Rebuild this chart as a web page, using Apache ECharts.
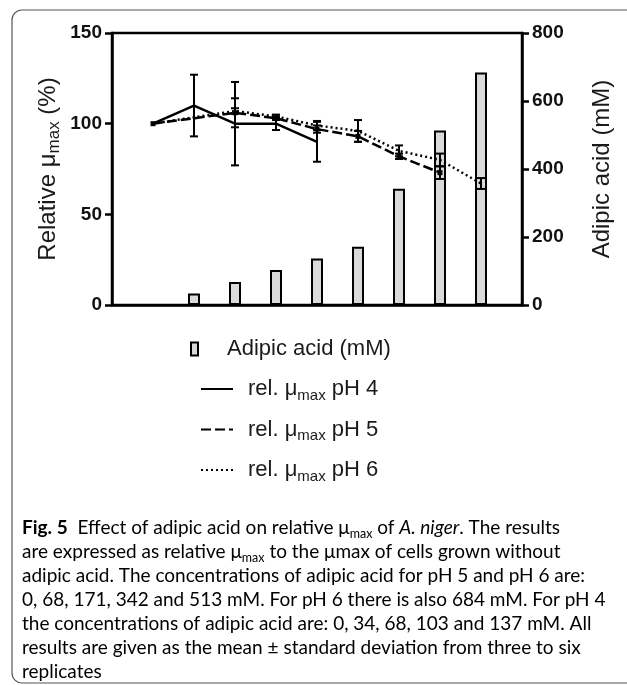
<!DOCTYPE html>
<html>
<head>
<meta charset="utf-8">
<script src="https://cdn.jsdelivr.net/npm/echarts@6.0.0/dist/echarts.min.js"></script>
<style>
  html, body { margin: 0; padding: 0; background: #fff; }
  #chart { width: 627px; height: 685px; }
</style>
</head>
<body>
<div id="chart"></div>
<script>
// slots on the x axis (no labels drawn), bars = adipic acid concentration
var barPos = [2, 3, 4, 5, 6, 7, 8, 9];
var adipic = [34, 68, 103, 137, 171, 342, 513, 684];

// relative mu max (%) with sd, per pH
var ph4Pos = [1, 2, 3, 4, 5];
var ph4Mean = [100, 110, 100, 100, 90];
var ph4Sd = [0, 17, 23, 3.5, 11];

var ph5Pos = [1, 3, 4, 5, 6, 7, 8];
var ph5Mean = [100, 106, 103, 97, 93, 82, 73];
var ph5Sd = [0, 8, 1, 2, 3, 1.5, 3.5];

var ph6Pos = [1, 3, 4, 5, 6, 7, 8, 9];
var ph6Mean = [100, 107, 104, 99, 96, 85, 80, 67];
var ph6Sd = [0, 1.5, 1, 2.5, 6, 3, 3.5, 3];

var leftTicks = [0, 50, 100, 150];
var rightTicks = [0, 200, 400, 600, 800];

var names = ['Adipic acid (mM)', 'rel. μmax pH 4', 'rel. μmax pH 5', 'rel. μmax pH 6'];

var caption = [
  '{b|Fig. 5}{t|  Effect of adipic acid on relative μ}{s|max}{t| of }{i|A. niger}{t|. The results}',
  '{t|are expressed as relative μ}{s|max}{t| to the μmax of cells grown without}',
  '{t|adipic acid. The concentrations of adipic acid for pH 5 and pH 6 are:}',
  '{t|0, 68, 171, 342 and 513 mM. For pH 6 there is also 684 mM. For pH 4}',
  '{t|the concentrations of adipic acid are: 0, 34, 68, 103 and 137 mM. All}',
  '{t|results are given as the mean ± standard deviation from three to six}',
  '{t|replicates}'
];

function zip(xs, ys) {
  return xs.map(function (x, i) { return [x, ys[i]]; });
}
function errData(xs, m, sd) {
  var out = [];
  for (var i = 0; i < xs.length; i++) {
    if (sd[i] > 0) out.push([xs[i], m[i] - sd[i], m[i] + sd[i]]);
  }
  return out;
}
function errRender(params, api) {
  var x = api.value(0);
  var top = api.coord([x, api.value(2)]);
  var bot = api.coord([x, api.value(1)]);
  var w = 4;
  var st = { stroke: '#000', lineWidth: 2 };
  return {
    type: 'group',
    children: [
      { type: 'line', shape: { x1: top[0], y1: top[1], x2: bot[0], y2: bot[1] }, style: st },
      { type: 'line', shape: { x1: top[0] - w, y1: top[1], x2: top[0] + w, y2: top[1] }, style: st },
      { type: 'line', shape: { x1: bot[0] - w, y1: bot[1], x2: bot[0] + w, y2: bot[1] }, style: st }
    ]
  };
}

var axisFont = 'Liberation Sans, Arial, sans-serif';
var capFont = 'Lato, sans-serif';
var legendRich = {
  p: { fontFamily: axisFont, fontSize: 22, color: '#1a1a1a', lineHeight: 28, padding: [0, 0, 0, 10] },
  a: { fontFamily: axisFont, fontSize: 22, color: '#1a1a1a', lineHeight: 28 },
  s: { fontFamily: axisFont, fontSize: 15, color: '#1a1a1a', lineHeight: 13, verticalAlign: 'bottom' }
};

var chart = echarts.init(document.getElementById('chart'), null, { renderer: 'canvas' });
chart.setOption({
  animation: false,
  backgroundColor: '#fff',
  grid: {
    left: 112, right: 105, top: 33, bottom: 380,
    show: true, borderColor: '#000', borderWidth: 2.5
  },
  xAxis: {
    type: 'value', min: 0, max: 10,
    axisLine: { show: true, lineStyle: { color: '#000', width: 2.5 } },
    axisTick: { show: false },
    axisLabel: { show: false },
    splitLine: { show: false }
  },
  yAxis: [{
    type: 'value', min: leftTicks[0], max: leftTicks[leftTicks.length - 1], interval: 50,
    position: 'left',
    name: '{a|Relative μ}{s|max}{a| (%)}',
    nameLocation: 'middle', nameGap: 49, nameRotate: 90, nameMoveOverlap: false,
    nameTextStyle: {
      rich: {
        a: { fontFamily: axisFont, fontSize: 24, color: '#1a1a1a', lineHeight: 30 },
        s: { fontFamily: axisFont, fontSize: 17, color: '#1a1a1a', lineHeight: 14, verticalAlign: 'bottom' }
      }
    },
    axisLine: { show: true, lineStyle: { color: '#000', width: 2.5 } },
    axisTick: { show: true, inside: false, length: 7, lineStyle: { color: '#000', width: 2.5 } },
    axisLabel: { fontFamily: axisFont, fontSize: 19, fontWeight: 'bold', color: '#111', margin: 10 },
    splitLine: { show: false }
  }, {
    type: 'value', min: rightTicks[0], max: rightTicks[rightTicks.length - 1], interval: 200,
    position: 'right',
    name: 'Adipic acid (mM)',
    nameLocation: 'middle', nameGap: 68, nameRotate: 90, nameMoveOverlap: false,
    nameTextStyle: { fontFamily: axisFont, fontSize: 24, color: '#1a1a1a' },
    axisLine: { show: true, lineStyle: { color: '#000', width: 2.5 } },
    axisTick: { show: true, inside: false, length: 7, lineStyle: { color: '#000', width: 2.5 } },
    axisLabel: { fontFamily: axisFont, fontSize: 19, fontWeight: 'bold', color: '#111', margin: 10 },
    splitLine: { show: false }
  }],
  legend: [{
    data: [names[0]],
    left: 190, top: 338, padding: 0,
    icon: 'rect', itemWidth: 7, itemHeight: 13,
    selectedMode: false,
    itemStyle: { color: '#d9d9d9', borderColor: '#000', borderWidth: 2 },
    formatter: function (n) { return '{p|' + n + '}'; },
    textStyle: { rich: { p: { fontFamily: axisFont, fontSize: 22, color: '#1a1a1a', lineHeight: 28, padding: [0, 0, 0, 24] } } }
  }, {
    data: names.slice(1),
    orient: 'vertical',
    left: 200, top: 378, padding: 0,
    itemWidth: 32, itemHeight: 2, itemGap: 15.5,
    selectedMode: false,
    formatter: function (n) {
      return '{p|rel. μ}{s|max}{a|' + n.replace('rel. μmax', '') + '}';
    },
    textStyle: { rich: legendRich }
  }],
  graphic: [{
    type: 'rect',
    shape: { x: 12, y: 10, width: 700, height: 673, r: 10 },
    style: { fill: 'none', stroke: '#555', lineWidth: 1.2 },
    silent: true
  }, {
    type: 'text',
    x: 22, y: 516,
    style: {
      text: caption.join('\n'),
      overflow: 'none',
      rich: {
        b: { fontFamily: capFont, fontSize: 19, fontWeight: 'bold', color: '#1a1a1a', lineHeight: 24 },
        t: { fontFamily: capFont, fontSize: 19, color: '#231f20', lineHeight: 24 },
        i: { fontFamily: capFont, fontSize: 19, fontStyle: 'italic', color: '#231f20', lineHeight: 24 },
        s: { fontFamily: capFont, fontSize: 12.5, color: '#231f20', lineHeight: 15, verticalAlign: 'bottom' }
      }
    },
    silent: true
  }],
  series: [{
    name: names[0],
    type: 'bar',
    yAxisIndex: 1,
    barWidth: 12,
    data: zip(barPos, adipic),
    itemStyle: { color: '#dadada', borderColor: '#000', borderWidth: 2 }
  }, {
    name: names[1],
    type: 'line',
    z: 4,
    data: zip(ph4Pos, ph4Mean),
    symbol: 'none',
    lineStyle: { color: '#000', width: 2.5, type: 'solid' },
    itemStyle: { color: '#000' }
  }, {
    name: names[2],
    type: 'line',
    z: 4,
    data: zip(ph5Pos, ph5Mean),
    symbol: 'rect', symbolSize: 5,
    lineStyle: { color: '#000', width: 2.5, type: [10, 4] },
    itemStyle: { color: '#000' }
  }, {
    name: names[3],
    type: 'line',
    z: 4,
    data: zip(ph6Pos, ph6Mean),
    symbol: 'none',
    lineStyle: { color: '#000', width: 2.5, type: [2, 3] },
    itemStyle: { color: '#000' }
  }, {
    type: 'custom', renderItem: errRender, encode: { x: 0, y: [1, 2] }, z: 5,
    data: errData(ph4Pos, ph4Mean, ph4Sd)
  }, {
    type: 'custom', renderItem: errRender, encode: { x: 0, y: [1, 2] }, z: 5,
    data: errData(ph5Pos, ph5Mean, ph5Sd)
  }, {
    type: 'custom', renderItem: errRender, encode: { x: 0, y: [1, 2] }, z: 5,
    data: errData(ph6Pos, ph6Mean, ph6Sd)
  }]
});
</script>
</body>
</html>
